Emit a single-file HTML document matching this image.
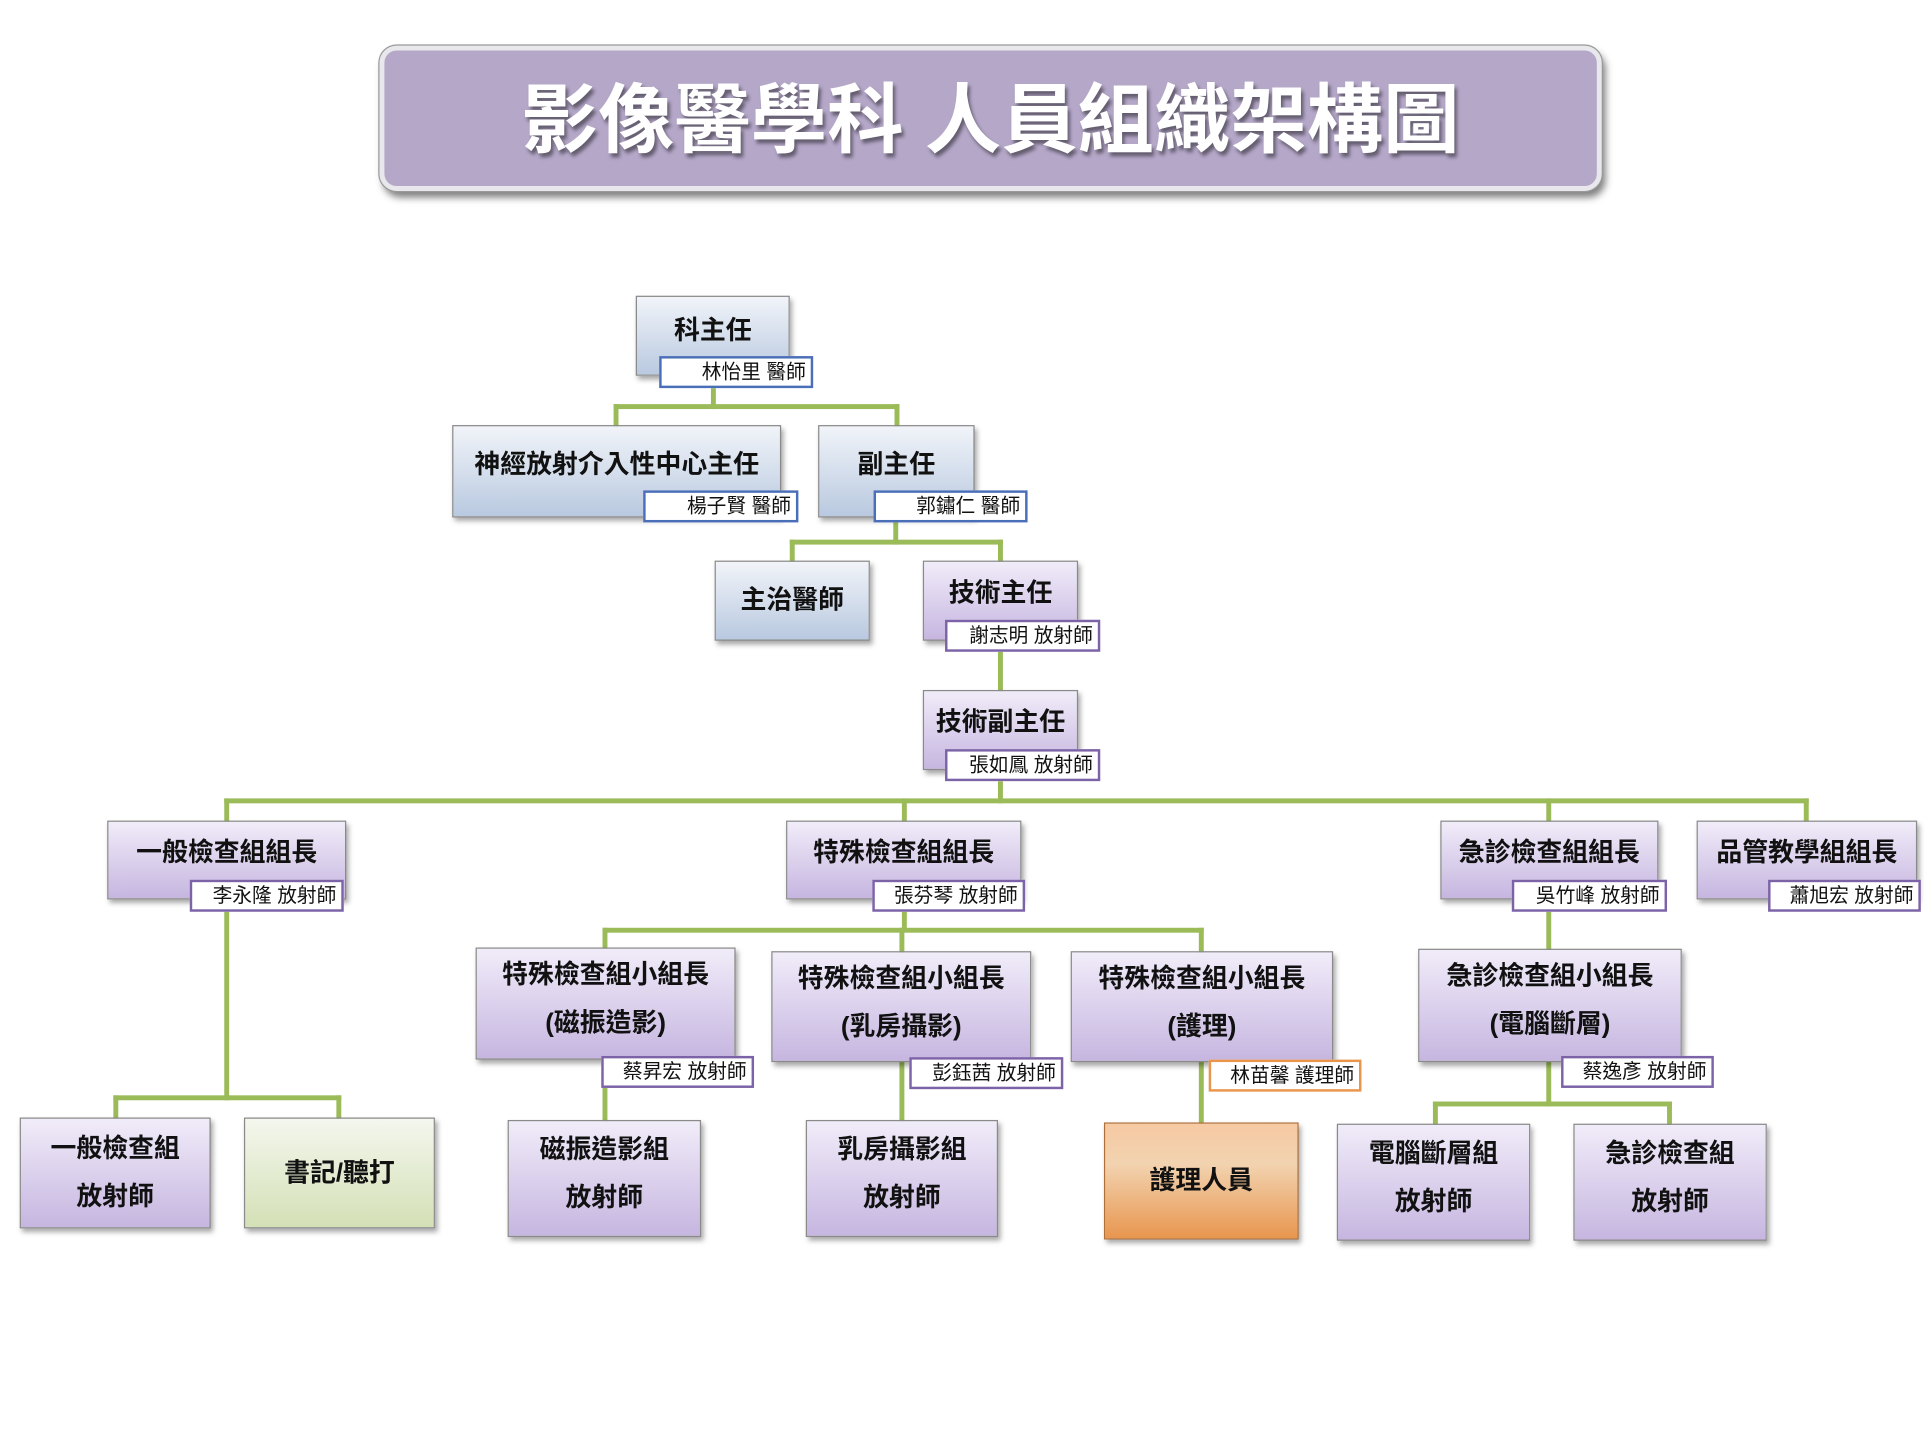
<!DOCTYPE html>
<html><head><meta charset="utf-8">
<style>
html,body{margin:0;padding:0;background:#fff;width:1932px;height:1444px;overflow:hidden}
#w{position:absolute;left:0;top:0;width:1568px;height:1172px;transform:scale(1.2321);transform-origin:0 0;font-family:"Liberation Sans","Noto Sans CJK TC",sans-serif}
.b{position:absolute;box-sizing:border-box;border:1px solid #8a8a8a;box-shadow:2px 3px 4px rgba(0,0,0,0.35);display:flex;flex-direction:column;align-items:center;justify-content:center;font-weight:bold;font-size:21px;color:#111;text-align:center;line-height:39px}
.bl{background:linear-gradient(#f1f4f9,#b9c9e0)}
.pu{background:linear-gradient(#f1ecf9,#c6b6e0)}
.gr{background:linear-gradient(#f4f7ee,#d4e0b6)}
.or{background:linear-gradient(#f6c9a2,#f2d3b0 35%,#e8964f);border-color:#b0703a}
.t{position:absolute;box-sizing:border-box;background:#fff;font-size:16px;color:#111;text-align:right;padding-right:4px;line-height:24px;height:26px}
.tb{border:2px solid #4a6fb8}
.tp{border:2px solid #7c63a8}
.to{border:2px solid #e9954b}
.l{position:absolute;background:#9bbb59}
#title{position:absolute;left:308px;top:37px;width:992px;height:118px;box-sizing:border-box;border-radius:14px;background:#b4a7c8;border:4px solid #e8e8ec;box-shadow:0 0 0 1px #999,3px 5px 6px rgba(0,0,0,0.5);color:#fff;font-weight:bold;font-size:62px;text-align:center;line-height:116px;text-shadow:2px 3px 3px rgba(0,0,0,0.45)}
</style></head><body><div id="w">
<div id="title">影像醫學科 人員組織架構圖</div>

<div class="l" style="left:577px;top:315px;width:4px;height:17px"></div>
<div class="l" style="left:498px;top:328px;width:232px;height:4px"></div>
<div class="l" style="left:498px;top:328px;width:4px;height:18px"></div>
<div class="l" style="left:726px;top:328px;width:4px;height:18px"></div>
<div class="l" style="left:725px;top:424px;width:4px;height:18px"></div>
<div class="l" style="left:641px;top:438px;width:173px;height:4px"></div>
<div class="l" style="left:641px;top:438px;width:4px;height:18px"></div>
<div class="l" style="left:810px;top:438px;width:4px;height:18px"></div>
<div class="l" style="left:810px;top:529px;width:4px;height:32px"></div>
<div class="l" style="left:810px;top:634px;width:4px;height:18px"></div>
<div class="l" style="left:182px;top:648px;width:1286px;height:4px"></div>
<div class="l" style="left:182px;top:648px;width:4px;height:19px"></div>
<div class="l" style="left:732px;top:648px;width:4px;height:19px"></div>
<div class="l" style="left:1255px;top:648px;width:4px;height:19px"></div>
<div class="l" style="left:1464px;top:648px;width:4px;height:19px"></div>
<div class="l" style="left:182px;top:740px;width:4px;height:153px"></div>
<div class="l" style="left:92px;top:889px;width:185px;height:4px"></div>
<div class="l" style="left:92px;top:889px;width:4px;height:19px"></div>
<div class="l" style="left:273px;top:889px;width:4px;height:19px"></div>
<div class="l" style="left:732px;top:740px;width:4px;height:16px"></div>
<div class="l" style="left:489px;top:753px;width:488px;height:4px"></div>
<div class="l" style="left:489px;top:753px;width:4px;height:17px"></div>
<div class="l" style="left:730px;top:753px;width:4px;height:20px"></div>
<div class="l" style="left:973px;top:753px;width:4px;height:20px"></div>
<div class="l" style="left:489px;top:883px;width:4px;height:27px"></div>
<div class="l" style="left:730px;top:862px;width:4px;height:48px"></div>
<div class="l" style="left:973px;top:862px;width:4px;height:50px"></div>
<div class="l" style="left:1255px;top:740px;width:4px;height:31px"></div>
<div class="l" style="left:1255px;top:862px;width:4px;height:36px"></div>
<div class="l" style="left:1163px;top:894px;width:194px;height:4px"></div>
<div class="l" style="left:1163px;top:894px;width:4px;height:19px"></div>
<div class="l" style="left:1353px;top:894px;width:4px;height:19px"></div>

<div class="b bl" style="left:516px;top:240px;width:125px;height:65px;justify-content:flex-start;padding-top:8px">科主任</div>
<div class="t tb" style="left:535px;top:289px;width:125px">林怡里 醫師</div>

<div class="b bl" style="left:367px;top:345px;width:267px;height:75px;justify-content:flex-start;padding-top:12px">神經放射介入性中心主任</div>
<div class="t tb" style="left:522px;top:398px;width:126px">楊子賢 醫師</div>
<div class="b bl" style="left:664px;top:345px;width:127px;height:75px;justify-content:flex-start;padding-top:12px">副主任</div>
<div class="t tb" style="left:709px;top:398px;width:125px">郭鏽仁 醫師</div>

<div class="b bl" style="left:580px;top:455px;width:126px;height:65px">主治醫師</div>
<div class="b pu" style="left:749px;top:455px;width:126px;height:65px;justify-content:flex-start;padding-top:6px">技術主任</div>
<div class="t tp" style="left:767px;top:503px;width:126px">謝志明 放射師</div>
<div class="b pu" style="left:749px;top:560px;width:126px;height:65px;justify-content:flex-start;padding-top:6px">技術副主任</div>
<div class="t tp" style="left:767px;top:608px;width:126px">張如鳳 放射師</div>

<div class="b pu" style="left:87px;top:666px;width:194px;height:64px;justify-content:flex-start;padding-top:6px">一般檢查組組長</div>
<div class="t tp" style="left:154px;top:714px;width:125px">李永隆 放射師</div>
<div class="b pu" style="left:638px;top:666px;width:191px;height:64px;justify-content:flex-start;padding-top:6px">特殊檢查組組長</div>
<div class="t tp" style="left:708px;top:714px;width:124px">張芬琴 放射師</div>
<div class="b pu" style="left:1169px;top:666px;width:177px;height:64px;justify-content:flex-start;padding-top:6px">急診檢查組組長</div>
<div class="t tp" style="left:1227px;top:714px;width:126px">吳竹峰 放射師</div>
<div class="b pu" style="left:1377px;top:666px;width:179px;height:64px;justify-content:flex-start;padding-top:6px">品管教學組組長</div>
<div class="t tp" style="left:1435px;top:714px;width:124px">蕭旭宏 放射師</div>

<div class="b pu" style="left:16px;top:907px;width:155px;height:90px">一般檢查組<br>放射師</div>
<div class="b gr" style="left:198px;top:907px;width:155px;height:90px">書記/聽打</div>

<div class="b pu" style="left:386px;top:769px;width:211px;height:91px;justify-content:flex-start;padding-top:2px">特殊檢查組小組長<br>(磁振造影)</div>
<div class="t tp" style="left:488px;top:857px;width:124px">蔡昇宏 放射師</div>
<div class="b pu" style="left:626px;top:772px;width:211px;height:90px;justify-content:flex-start;padding-top:2px">特殊檢查組小組長<br>(乳房攝影)</div>
<div class="t tp" style="left:738px;top:858px;width:125px">彭鈺茜 放射師</div>
<div class="b pu" style="left:869px;top:772px;width:213px;height:90px;justify-content:flex-start;padding-top:2px">特殊檢查組小組長<br>(護理)</div>
<div class="t to" style="left:981px;top:860px;width:124px">林苗馨 護理師</div>
<div class="b pu" style="left:1151px;top:770px;width:214px;height:92px;justify-content:flex-start;padding-top:2px">急診檢查組小組長<br>(電腦斷層)</div>
<div class="t tp" style="left:1267px;top:857px;width:124px">蔡逸彥 放射師</div>

<div class="b pu" style="left:412px;top:909px;width:157px;height:95px;justify-content:flex-start;padding-top:4px">磁振造影組<br>放射師</div>
<div class="b pu" style="left:654px;top:909px;width:156px;height:95px;justify-content:flex-start;padding-top:4px">乳房攝影組<br>放射師</div>
<div class="b or" style="left:896px;top:911px;width:158px;height:95px">護理人員</div>
<div class="b pu" style="left:1085px;top:912px;width:157px;height:95px;justify-content:flex-start;padding-top:4px">電腦斷層組<br>放射師</div>
<div class="b pu" style="left:1277px;top:912px;width:157px;height:95px;justify-content:flex-start;padding-top:4px">急診檢查組<br>放射師</div>
</div></body></html>
